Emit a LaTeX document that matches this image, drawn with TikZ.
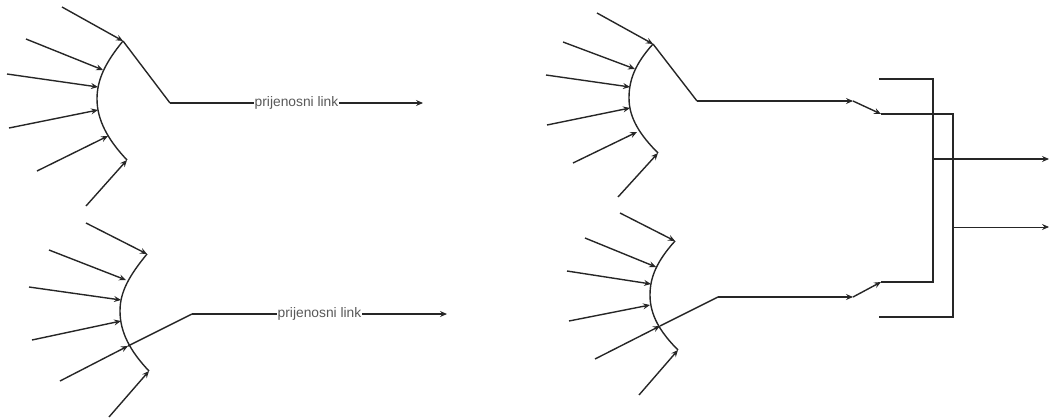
\documentclass[tikz,border=0pt]{standalone}
\usepackage{fontspec}
\usetikzlibrary{arrows.meta}
\setmainfont{Liberation Sans}
\begin{document}
\begin{tikzpicture}[x=1pt, y=-1pt, >={Stealth[length=7pt, width=6pt, inset=2.5pt]}, wire/.style={line width=1.4pt, black!85}, thinwire/.style={line width=0.8pt, black!85}, linklabel/.style={fill=white, inner sep=1pt, font=\fontsize{13.8}{15}\selectfont, text=black!65}]
    \useasboundingbox (0,0) rectangle (1049,418);

    % gornja lijeva grupa
    \coordinate (a1) at (123,41);
    \coordinate (a2) at (103,70);
    \coordinate (a3) at (98,87);
    \coordinate (a4) at (97,99);
    \coordinate (a5) at (98,110);
    \coordinate (a6) at (108,136);
    \coordinate (a7) at (127,160);
    \coordinate (as1) at (62,7);
    \coordinate (as2) at (26,39);
    \coordinate (as3) at (7,74);
    \coordinate (as4) at (9,128);
    \coordinate (as5) at (37,171);
    \coordinate (as6) at (86,206);
    \coordinate (ak) at (170,103);
    \coordinate (ae) at (423,103);
    \draw[wire] (a1) .. controls +(-18,22) and +(0,-19) .. (a4) .. controls +(0,21) and +(-19,-20) .. (a7);
    \draw[->, wire] (as1) -- (a1);
    \draw[->, wire] (as2) -- (a2);
    \draw[->, wire] (as3) -- (a3);
    \draw[->, wire] (as4) -- (a5);
    \draw[->, wire] (as5) -- (a6);
    \draw[->, wire] (as6) -- (a7);
    \draw[wire] (a1) -- (ak);
    \draw[->, wire] (ak) -- (ae) node[midway, linklabel] (alink) {prijenosni link};

    % donja lijeva grupa
    \coordinate (b1) at (147,254);
    \coordinate (b2) at (126,280);
    \coordinate (b3) at (121,300);
    \coordinate (b4) at (120,311);
    \coordinate (b5) at (121,321);
    \coordinate (b6) at (128,346);
    \coordinate (b7) at (149,371);
    \coordinate (bs1) at (86,223);
    \coordinate (bs2) at (49,250);
    \coordinate (bs3) at (29,287);
    \coordinate (bs4) at (32,340);
    \coordinate (bs5) at (60,381);
    \coordinate (bs6) at (109,417);
    \coordinate (bk) at (192,314);
    \coordinate (be) at (447,314);
    \draw[wire] (b1) .. controls +(-18,22) and +(0,-19) .. (b4) .. controls +(0,21) and +(-19,-20) .. (b7);
    \draw[->, wire] (bs1) -- (b1);
    \draw[->, wire] (bs2) -- (b2);
    \draw[->, wire] (bs3) -- (b3);
    \draw[->, wire] (bs4) -- (b5);
    \draw[->, wire] (bs5) -- (b6);
    \draw[->, wire] (bs6) -- (b7);
    \draw[wire] (b6) -- (bk);
    \draw[->, wire] (bk) -- (be) node[midway, linklabel] (blink) {prijenosni link};

    % gornja desna grupa
    \coordinate (c1) at (653,44);
    \coordinate (c2) at (635,69);
    \coordinate (c3) at (630,87);
    \coordinate (c4) at (629,98);
    \coordinate (c5) at (630,108);
    \coordinate (c6) at (637,132);
    \coordinate (c7) at (658,153);
    \coordinate (cs1) at (597,13);
    \coordinate (cs2) at (563,42);
    \coordinate (cs3) at (546,75);
    \coordinate (cs4) at (547,125);
    \coordinate (cs5) at (573,163);
    \coordinate (cs6) at (618,197);
    \coordinate (ck) at (697,101);
    \coordinate (ce) at (853,101);
    \draw[wire] (c1) .. controls +(-18,20) and +(0,-18) .. (c4) .. controls +(0,20) and +(-18,-18) .. (c7);
    \draw[->, wire] (cs1) -- (c1);
    \draw[->, wire] (cs2) -- (c2);
    \draw[->, wire] (cs3) -- (c3);
    \draw[->, wire] (cs4) -- (c5);
    \draw[->, wire] (cs5) -- (c6);
    \draw[->, wire] (cs6) -- (c7);
    \draw[wire] (c1) -- (ck);
    \draw[->, wire] (ck) -- (ce);

    % donja desna grupa
    \coordinate (d1) at (675,241);
    \coordinate (d2) at (656,267);
    \coordinate (d3) at (651,284);
    \coordinate (d4) at (650,295);
    \coordinate (d5) at (650,305);
    \coordinate (d6) at (660,326);
    \coordinate (d7) at (678,350);
    \coordinate (ds1) at (620,213);
    \coordinate (ds2) at (585,238);
    \coordinate (ds3) at (567,271);
    \coordinate (ds4) at (569,321);
    \coordinate (ds5) at (595,359);
    \coordinate (ds6) at (639,395);
    \coordinate (dk) at (718,297);
    \coordinate (de) at (853,297);
    \draw[wire] (d1) .. controls +(-18,20) and +(0,-18) .. (d4) .. controls +(0,20) and +(-18,-18) .. (d7);
    \draw[->, wire] (ds1) -- (d1);
    \draw[->, wire] (ds2) -- (d2);
    \draw[->, wire] (ds3) -- (d3);
    \draw[->, wire] (ds4) -- (d5);
    \draw[->, wire] (ds5) -- (d6);
    \draw[->, wire] (ds6) -- (d7);
    \draw[wire] (d6) -- (dk);
    \draw[->, wire] (dk) -- (de);

    % sklopke i sabirnice
    \coordinate (sw1) at (881,114);
    \coordinate (sw2) at (881,282);
    \coordinate (p1) at (879,79);
    \coordinate (p2) at (933,79);
    \coordinate (p3) at (933,282);
    \coordinate (q1) at (953,114);
    \coordinate (q2) at (953,317);
    \coordinate (q3) at (879,317);
    \coordinate (o1) at (933,159);
    \coordinate (o1e) at (1049,159);
    \coordinate (o2) at (953,227);
    \coordinate (o2e) at (1049,227);
    \draw[->, wire] (ce) -- (sw1);
    \draw[->, wire] (de) -- (sw2);
    \draw[wire] (p1) -- (p2) -- (p3) -- (sw2);
    \draw[wire] (sw1) -- (q1) -- (q2) -- (q3);
    \draw[->, wire] (o1) -- (o1e);
    \draw[->, thinwire] (o2) -- (o2e);
\end{tikzpicture}
\end{document}
